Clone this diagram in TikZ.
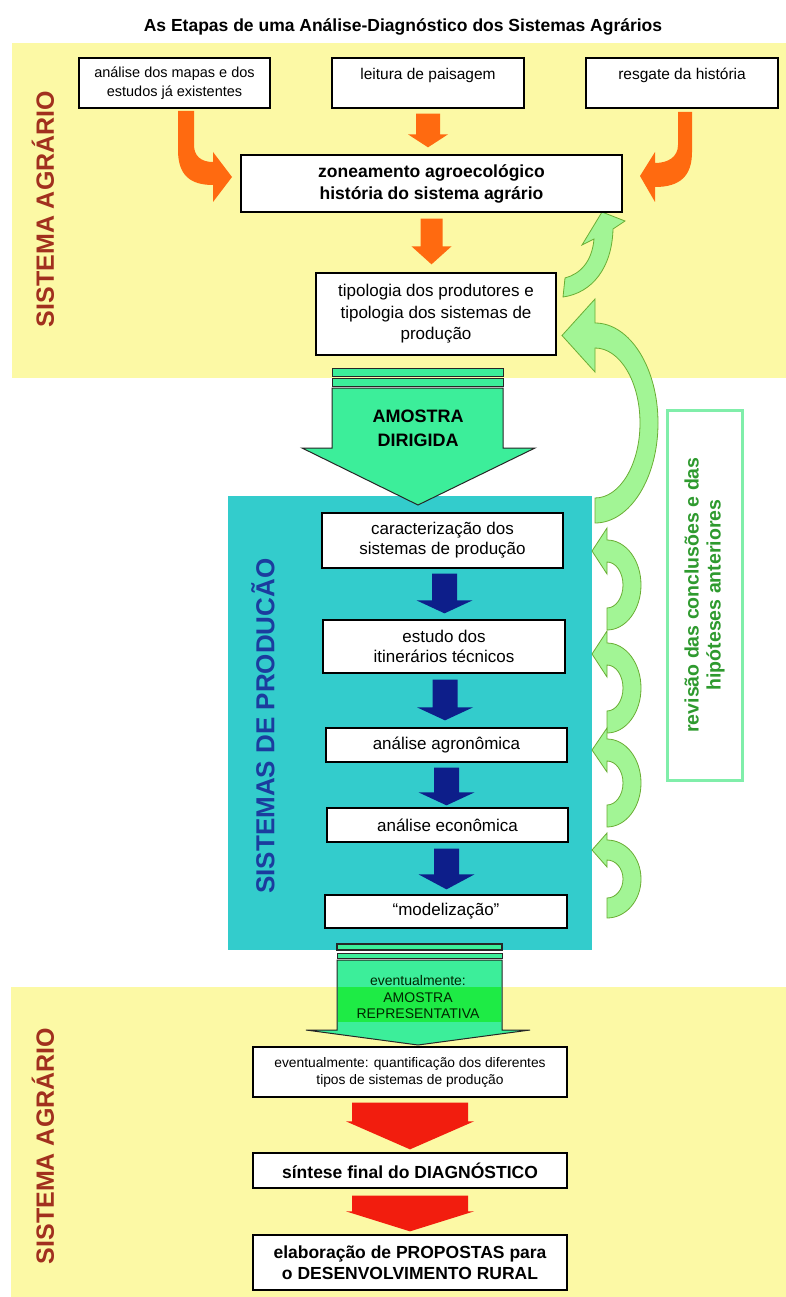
\documentclass[tikz,border=0pt]{standalone}
\usepackage{fontspec}
\setmainfont{Liberation Sans}
\usetikzlibrary{calc}
\definecolor{bandyellow}{HTML}{FCF9A5}
\definecolor{prodteal}{HTML}{33CCCC}
\definecolor{arrowor}{HTML}{FF6A10}
\definecolor{prodnavy}{HTML}{0D1E8A}
\definecolor{arrowred}{HTML}{F21D0E}
\definecolor{revfill}{HTML}{A2F595}
\definecolor{revline}{HTML}{6AAE34}
\definecolor{revborder}{HTML}{80EEAA}
\definecolor{revtext}{HTML}{2E9A2E}
\definecolor{samplegreen}{HTML}{3CEE9A}
\definecolor{brightgreen}{HTML}{1EEB45}
\definecolor{agrared}{HTML}{A1301E}
\definecolor{prodblue}{HTML}{1B3C9E}
\newcommand{\fs}[2]{\fontsize{#1}{#2}\selectfont}
% straight block arrow pointing down: style, start, tip, body half, head half, head length
\newcommand{\blockdown}[6]{%
  \fill[#1] let \p1=#2, \p2=#3 in
    (\x1-#4,\y1) -- (\x1+#4,\y1) -- (\x1+#4,\y2+#6) -- (\x1+#5,\y2+#6)
    -- (\x1,\y2) -- (\x1-#5,\y2+#6) -- (\x1-#4,\y2+#6) -- cycle;}
% half ring arrow: cx, cy, outer rx, outer ry, inner rx, inner ry, head ext, tip length
\newcommand{\ringarrow}[8]{%
  \filldraw[revarrow] (#1,#2+#6) -- (#1,#2+#4)
    arc[start angle=90,end angle=-90,x radius=#3,y radius=#4]
    -- (#1,#2-#4-#7) -- (#1-#8,#2-#4/2-#6/2) -- (#1,#2-#6+#7) -- (#1,#2-#6)
    arc[start angle=-90,end angle=90,x radius=#5,y radius=#6] -- cycle;}
\pgfdeclarelayer{bands}
\pgfdeclarelayer{arrows}
\pgfsetlayers{bands,arrows,main}

\begin{document}
\begin{tikzpicture}[x=1pt,y=-1pt,
    box/.style={draw=black,line width=1.3pt,fill=white,align=center,inner sep=0pt},
    sidelabel/.style={rotate=90,font=\fs{25}{28}\bfseries},
    orangearrow/.style={fill=arrowor},
    prodarrow/.style={fill=prodnavy},
    redarrow/.style={fill=arrowred},
    revarrow/.style={fill=revfill,draw=revline,line width=0.8pt},
    sample/.style={fill=samplegreen,draw=black!85,line width=1pt}]
  \useasboundingbox (0,0) rectangle (786,1297);
  \begin{pgfonlayer}{bands}
    \fill[white] (0,0) rectangle (786,1297);
    \fill[bandyellow] (12,43) rectangle (786,378);
    \fill[bandyellow] (11,987) rectangle (786,1297);
    \fill[prodteal] (228,496) rectangle (592,950);
  \end{pgfonlayer}

  \node (title) at (403,27) {\fs{17.5}{20}\bfseries As Etapas de uma Análise-Diagnóstico dos Sistemas Agrários};

  \node[sidelabel,agrared] (sa1) at (43,209) {SISTEMA AGRÁRIO};
  \node[sidelabel,agrared] (sa2) at (43,1146) {SISTEMA AGRÁRIO};
  \node[sidelabel,prodblue,font=\fs{26}{28}\bfseries] (sp) at (263,726) {SISTEMAS DE PRODUCÃO};

  % upper sistema agrario
  \node[box,minimum width=191pt,minimum height=50pt,font=\fs{14.5}{19}] (mapas) at (174.5,83)
    {análise dos mapas e dos\\estudos já existentes};
  \node[box,minimum width=192pt,minimum height=50pt,font=\fs{15.5}{18}] (lei) at (428,83)
    {leitura de paisagem\\\mbox{}};
  \node[box,minimum width=192pt,minimum height=50pt,font=\fs{15.5}{18}] (res) at (682,83)
    {resgate da história\\\mbox{}};
  \node[box,minimum width=381pt,minimum height=57pt,font=\fs{17.5}{22}\bfseries] (zon) at (431.5,183.5)
    {zoneamento agroecológico\\história do sistema agrário};
  \node[box,minimum width=240pt,minimum height=82pt,font=\fs{17}{21.5}] (tip) at (436,314)
    {tipologia dos produtores e\\tipologia dos sistemas de\\produção};

  % sistemas de producao
  \node[box,minimum width=241pt,minimum height=55pt,font=\fs{17}{20}] (car) at (442.5,540.5)
    {caracterização dos\\sistemas de produção};
  \node[box,minimum width=242pt,minimum height=53pt,font=\fs{17}{20}] (est) at (444,646.5)
    {estudo dos\\itinerários técnicos};
  \node[box,minimum width=241pt,minimum height=34pt,font=\fs{17}{20}] (agr) at (446.5,745)
    {análise agronômica};
  \node[box,minimum width=241pt,minimum height=34pt,font=\fs{17}{20}] (eco) at (447.5,825)
    {análise econômica};
  \node[box,minimum width=242pt,minimum height=33pt,font=\fs{17}{20}] (mod) at (446,911.5)
    {“modelização”};

  % lower sistema agrario
  \node[box,minimum width=314pt,minimum height=50pt,font=\fs{13.8}{17}] (quant) at (410,1072)
    {eventualmente: quantificação dos diferentes\\tipos de sistemas de produção};
  \node[box,minimum width=314pt,minimum height=35pt,font=\fs{17.5}{20.5}\bfseries] (sint) at (410,1170.5)
    {síntese final do DIAGNÓSTICO};
  \node[box,minimum width=314pt,minimum height=55pt,font=\fs{17.5}{20.5}\bfseries] (elab) at (410,1262.5)
    {elaboração de PROPOSTAS para\\o DESENVOLVIMENTO RURAL};

  \node[draw=revborder,line width=3pt,rotate=90,minimum width=370pt,minimum height=75pt,
    align=center,text=revtext,font=\fs{19.5}{22}\bfseries] (rev) at (704.5,595)
    {revisão das conclusões e das\\hipóteses anteriores};

  \node[align=center,font=\fs{18}{24}\bfseries] (dir) at (418,428) {AMOSTRA\\DIRIGIDA};
  \node[align=center,text=black!85!green,font=\fs{14}{16.5}] (rep) at (418,997)
    {eventualmente:\\AMOSTRA\\REPRESENTATIVA};

  \begin{pgfonlayer}{arrows}
    % orange arrows
    \fill[orangearrow] (178,111) -- (178,150) .. controls (178,175) and (190,185) .. (213,185)
      -- (213,202) -- (232,177) -- (213,152) -- (213,162)
      .. controls (201,162) and (194,156) .. (194,145) -- (194,111) -- cycle;
    \fill[orangearrow] (692,112) -- (692,152) .. controls (692,176) and (680,187) .. (655,187)
      -- (655,202) -- (640,176) -- (655,152) -- (655,163)
      .. controls (668,163) and (678,157) .. (678,145) -- (678,112) -- cycle;
    \blockdown{orangearrow}{($(lei.south)+(0,5)$)}{($(zon.north)+(0,-7)$)}{12pt}{20pt}{13pt}
    \blockdown{orangearrow}{($(zon.south)+(0,6)$)}{($(tip.north)+(0,-8)$)}{11pt}{20pt}{18pt}

    % amostra dirigida
    \filldraw[sample] (332,368) rectangle (503,376);
    \filldraw[sample] (332,378) rectangle (503,386);
    \filldraw[sample] (332,388) -- (503,388) -- (503,448) -- (535,448) -- (418,505)
      -- (302,448) -- (332,448) -- cycle;

    % navy arrows
    \blockdown{prodarrow}{($(car.south)+(2,5)$)}{($(est.north)+(1,-6)$)}{12.5pt}{28pt}{13pt}
    \blockdown{prodarrow}{($(est.south)+(1,6)$)}{($(agr.north)+(0,-7)$)}{12.5pt}{28pt}{13pt}
    \blockdown{prodarrow}{($(agr.south)+(0,5)$)}{($(eco.north)+(0,-2)$)}{12.5pt}{28pt}{13pt}
    \blockdown{prodarrow}{($(eco.south)+(-1,6)$)}{($(mod.north)+(0,-5)$)}{12.5pt}{28pt}{15pt}

    % revision arrows
    \filldraw[revarrow] (565,278) -- (563,297) .. controls (592,293) and (612,268) .. (613,229)
      -- (625,221) -- (602,212) -- (582,245) -- (594,239)
      .. controls (592,262) and (580,274) .. (565,278) -- cycle;
    \ringarrow{595}{423}{63}{100}{45}{75}{24}{33}
    \foreach \cy/\ory/\iry/\ext in {585/45/23/12,688/45/23/12,783/44/22/11,879/39/19/7}
      \ringarrow{607}{\cy}{34}{\ory}{16}{\iry}{\ext}{15};

    % amostra representativa
    \filldraw[sample,line width=1.6pt] (337,944) rectangle (502,950);
    \filldraw[sample] (337,953) rectangle (502,958);
    \filldraw[sample] (337,960) -- (502,960) -- (502,1030) -- (530,1030) -- (418,1045)
      -- (306,1030) -- (337,1030) -- cycle;
    \fill[brightgreen] (338,987) rectangle (501,1022);

    % red arrows
    \blockdown{redarrow}{($(quant.south)+(0,5)$)}{($(sint.north)+(0,-3)$)}{58pt}{64pt}{28pt}
    \blockdown{redarrow}{($(sint.south)+(0,7)$)}{($(elab.north)+(0,-3)$)}{58pt}{64pt}{20pt}
  \end{pgfonlayer}
\end{tikzpicture}
\end{document}
